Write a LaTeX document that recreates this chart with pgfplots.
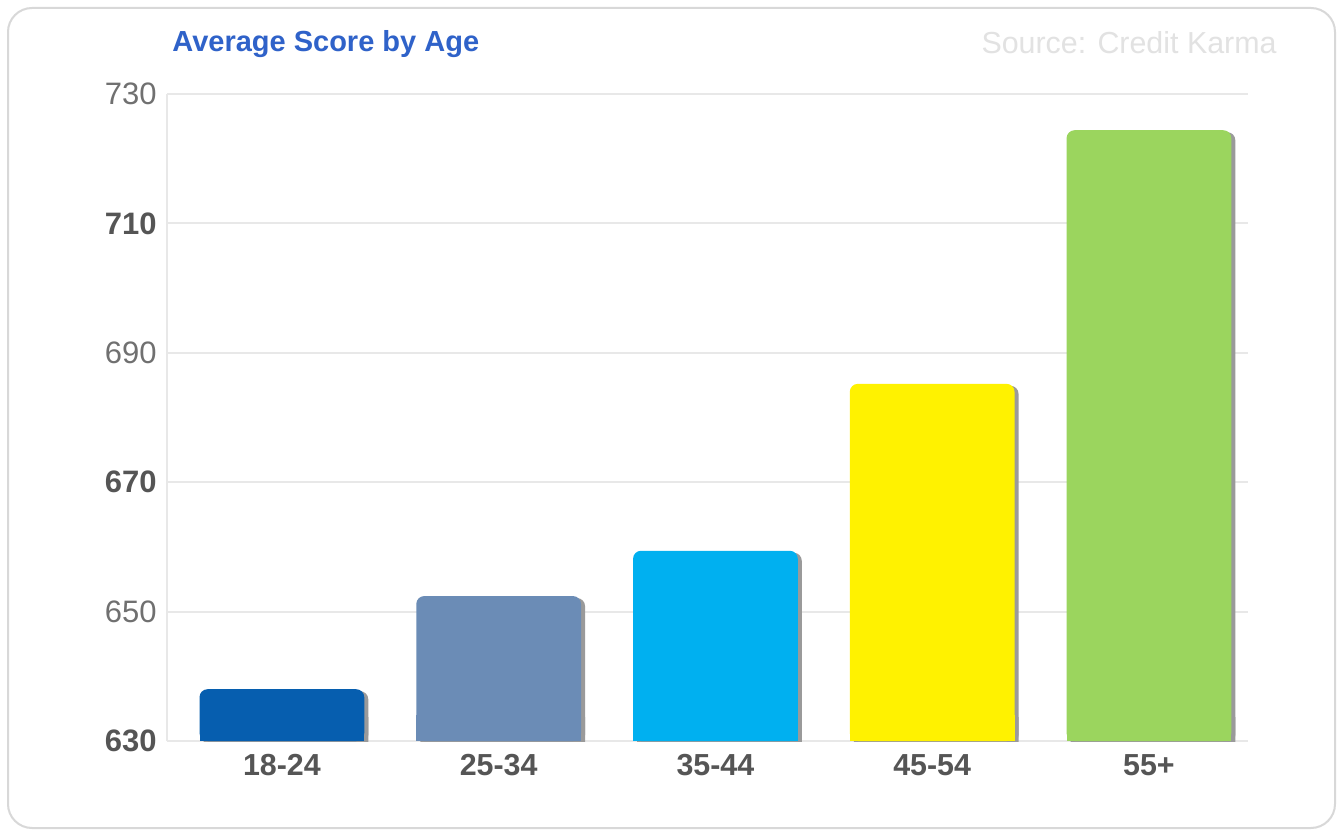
\documentclass[border=0pt]{standalone}
\usepackage{pgfplots}
\pgfplotsset{compat=1.18}
\usepackage{fontspec}
\setmainfont{Liberation Sans}
\definecolor{titleblue}{HTML}{2F62C9}
\definecolor{srcgray}{HTML}{E2E2E2}
\definecolor{framegray}{HTML}{D8D8D8}
\definecolor{gridgray}{HTML}{E8E8E8}
\definecolor{tickdark}{HTML}{555555}
\definecolor{ticklight}{HTML}{707070}
\definecolor{shadowgray}{HTML}{9A9A9A}
\definecolor{cA}{HTML}{065EAF}
\definecolor{cB}{HTML}{6B8CB6}
\definecolor{cC}{HTML}{00B0F0}
\definecolor{cD}{HTML}{FFF200}
\definecolor{cE}{HTML}{9BD55E}
\begin{document}
\begin{tikzpicture}
\useasboundingbox (0,0) rectangle (672pt,418pt);
\fill[white] (0,0) rectangle (672pt,418pt);
\draw[rounded corners=12pt, draw=framegray, line width=1pt] (4pt,4pt) rectangle (667.5pt,414pt);
\node[anchor=west, inner sep=0pt, text=titleblue, font=\fontsize{14.5}{17}\selectfont\bfseries] at (86pt,396pt) {Average Score by Age};
\node[anchor=east, inner sep=0pt, text=srcgray, font=\fontsize{15.2}{18}\selectfont] at (638.5pt,396.5pt) {Source: Credit Karma};
\begin{axis}[
  at={(83.5pt,47.5pt)}, anchor=south west,
  scale only axis, width=540.5pt, height=323.5pt,
  xmin=-0.53, xmax=4.457, ymin=630, ymax=730,
  axis x line=none,
  axis y line*=left,
  axis line style={-, draw=gridgray, line width=1pt},
  ymajorgrids, grid style={draw=gridgray, line width=1pt},
  ytick={630,650,670,690,710,730},
  yticklabels={\textbf{630},{\color{ticklight}650},\textbf{670},{\color{ticklight}690},\textbf{710},{\color{ticklight}730}},
  yticklabel style={inner sep=0pt, xshift=-5pt, text=tickdark, font=\fontsize{15.5}{18}\selectfont},
  major tick length=0pt, tick style={draw=none},
  mybar/.style={ybar, bar width=0.76, bar shift=0pt, draw=none, rounded corners=4pt},
  mybase/.style={ybar, bar width=0.76, bar shift=0pt, draw=none, sharp corners},
]
\addplot[mybar, fill=shadowgray, xshift=2pt, yshift=-1pt] coordinates {(0,638) (1,652.4) (2,659.4) (3,685.2) (4,724.4)};
\addplot[mybase, fill=shadowgray, xshift=2pt, yshift=-1pt] coordinates {(0,634) (1,634) (2,634) (3,634) (4,634)};
\addplot[mybar, fill=cA] coordinates {(0,638)};
\addplot[mybar, fill=cB] coordinates {(1,652.4)};
\addplot[mybar, fill=cC] coordinates {(2,659.4)};
\addplot[mybar, fill=cD] coordinates {(3,685.2)};
\addplot[mybar, fill=cE] coordinates {(4,724.4)};
\addplot[mybase, fill=cA] coordinates {(0,634)};
\addplot[mybase, fill=cB] coordinates {(1,634)};
\addplot[mybase, fill=cC] coordinates {(2,634)};
\addplot[mybase, fill=cD] coordinates {(3,634)};
\addplot[mybase, fill=cE] coordinates {(4,634)};
\end{axis}
\begin{axis}[
  at={(83.5pt,47.5pt)}, anchor=south west,
  scale only axis, width=540.5pt, height=323.5pt,
  xmin=-0.53, xmax=4.457, ymin=630, ymax=730,
  hide y axis, axis x line*=bottom, axis line style={draw=none},
  xtick={0,1,2,3,4},
  xticklabels={18-24,25-34,35-44,45-54,55+},
  xticklabel style={inner sep=0pt, yshift=-6.5pt, text=tickdark, font=\fontsize{15.2}{18}\selectfont\bfseries},
  major tick length=0pt, tick style={draw=none},
]
\addplot[draw=none] coordinates {(0,640)};
\end{axis}
\end{tikzpicture}
\end{document}
